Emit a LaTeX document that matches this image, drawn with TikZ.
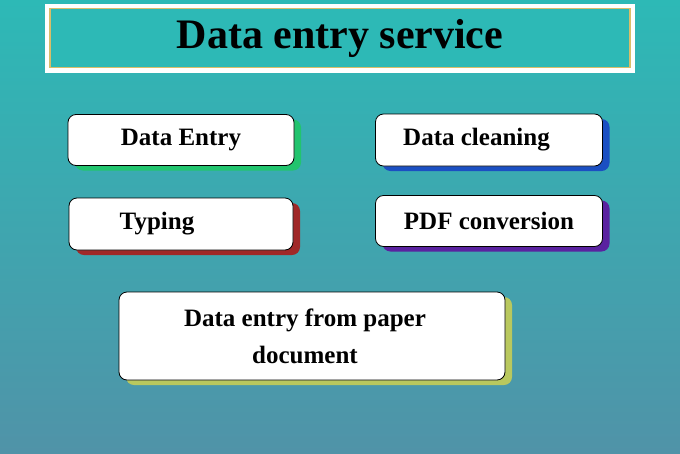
\documentclass[tikz,border=0pt]{standalone}
\usepackage{fontspec}
\setmainfont{Liberation Serif}
\usetikzlibrary{positioning, shadows}
\definecolor{bgtop}{HTML}{2DB9B6}
\definecolor{bgbot}{HTML}{5093A8}
\definecolor{gold}{HTML}{D9BE6A}
\definecolor{shgreen}{HTML}{22C46E}
\definecolor{shblue}{HTML}{1B4FC2}
\definecolor{shred}{HTML}{A02828}
\definecolor{shviolet}{HTML}{5A22A0}
\definecolor{sholive}{HTML}{B9C85E}
\tikzset{
    service/.style n args = {2}{
        draw=black, fill=white, rounded corners=8pt, thick, minimum width=#1,
        minimum height=#2, align=center, font=\fontsize{25}{37}\selectfont\bfseries
    },
    backshade/.style = {
        drop shadow={shadow xshift=7pt, shadow yshift=-5pt, fill=#1, opacity=1, rounded corners=8pt}
    }
}
\begin{document}
\begin{tikzpicture}[x=1pt, y=-1pt]
    % Background
    \fill[top color=bgtop, bottom color=bgbot] (0,0) rectangle (680,453);
    \useasboundingbox (0,0) rectangle (680,453);
    % Title
    \node[fill=white, minimum width=590pt, minimum height=69pt] (frame) at (340,38) {};
    \node[fill=bgtop, draw=gold, line width=1.5pt, minimum width=580pt, minimum height=59pt,
          font=\fontsize{42}{48}\selectfont\bfseries] (title) at (340,38) {Data entry service};
    % Services
    \node[service={226pt}{51pt}, backshade=shgreen] (entry) at (181,140) {Data Entry};
    \node[service={227pt}{52pt}, backshade=shblue] (cleaning) at (489,140) {\hspace*{-25pt}Data cleaning};
    \node[service={224pt}{52pt}, backshade=shred] (typing) at (181,224)
        {\hspace*{-48pt}\raisebox{6pt}{Typing}};
    \node[service={227pt}{51pt}, backshade=shviolet] (pdf) at (489,221) {PDF conversion};
    \node[service={386pt}{88pt}, backshade=sholive] (paper) at (312,336)
        {\hspace*{-14pt}Data entry from paper\\\hspace*{-14pt}document};
\end{tikzpicture}
\end{document}
